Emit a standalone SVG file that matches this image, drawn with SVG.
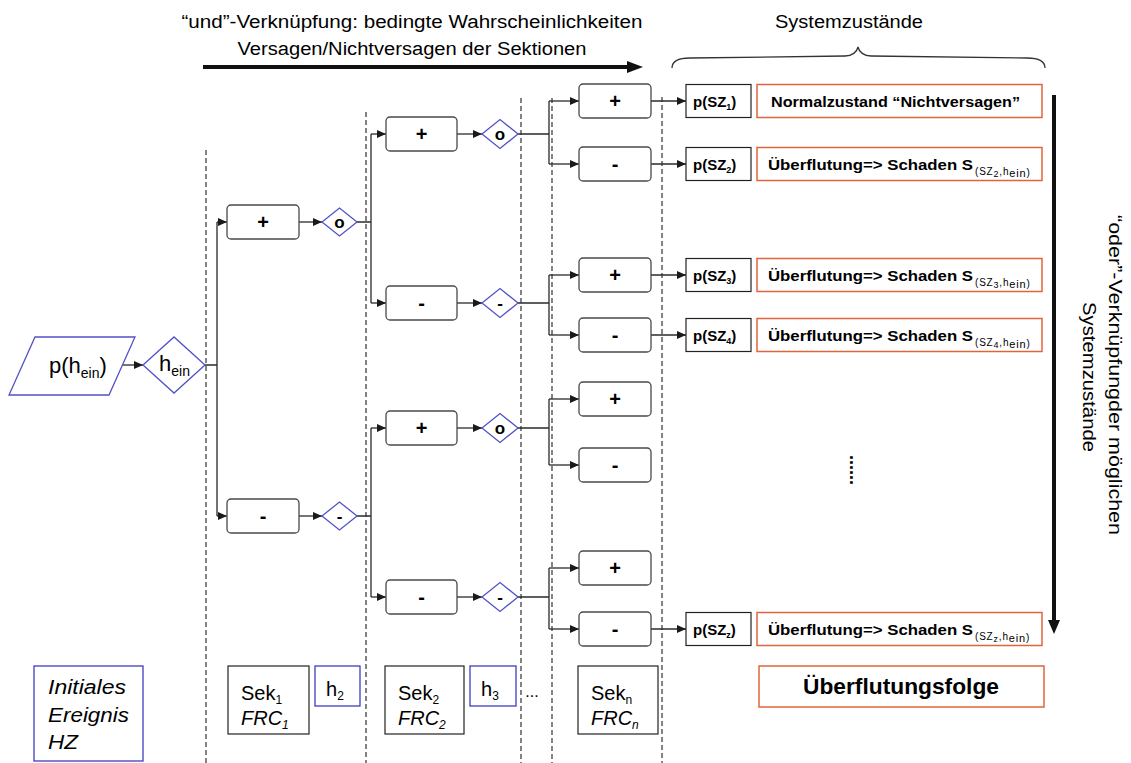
<svg xmlns="http://www.w3.org/2000/svg" width="1131" height="763" viewBox="0 0 1131 763">
<defs>
  <marker id="tip" markerUnits="userSpaceOnUse" markerWidth="9" markerHeight="8" refX="9" refY="4" orient="auto">
    <path d="M0,0 L9,4 L0,8 z" fill="#1a1a1a"/>
  </marker>
  <style>
    text{font-family:"Liberation Sans",Arial,Helvetica,sans-serif;fill:#000}
    .box{fill:#fff;stroke:#4a4a4a;stroke-width:1.3}
    .dec{fill:#fff;stroke:#5252c8;stroke-width:1.3}
    .blue{fill:#fff;stroke:#3c3cc0;stroke-width:1.3}
    .cons{fill:#fff;stroke:#e3643c;stroke-width:1.5}
    .sq{fill:#fff;stroke:#222;stroke-width:1.2}
    .sign{font-size:20px;font-weight:bold;text-anchor:middle}
    .dsign{font-size:17px;font-weight:bold;text-anchor:middle}
    .link{fill:none;stroke:#2a2a2a;stroke-width:1.3}
    .arr{fill:none;stroke:#2a2a2a;stroke-width:1.3;marker-end:url(#tip)}
    .sep{stroke:#1e1e1e;stroke-width:1.1;stroke-dasharray:5 3}
    .ps{font-size:15px;font-weight:bold}
    .res{font-size:15px;font-weight:bold}
    .sub{font-size:10px}
    .lbl{font-size:20px}
  </style>
</defs>
<rect width="1131" height="763" fill="#fff"/>

<!-- section separators -->
<g id="separators">
  <line class="sep" x1="206" y1="150" x2="206" y2="763"/>
  <line class="sep" x1="366" y1="112" x2="366" y2="763"/>
  <line class="sep" x1="521" y1="98" x2="521" y2="763"/>
  <line class="sep" x1="552" y1="98" x2="552" y2="763"/>
  <line class="sep" x1="662" y1="97" x2="662" y2="763"/>
</g>

<!-- headings -->
<g id="header">
  <text x="412" y="28" font-size="18" text-anchor="middle" textLength="461" lengthAdjust="spacingAndGlyphs">“und”-Verknüpfung: bedingte Wahrscheinlichkeiten</text>
  <text x="412" y="55" font-size="18" text-anchor="middle" textLength="349" lengthAdjust="spacingAndGlyphs">Versagen/Nichtversagen der Sektionen</text>
  <line x1="203" y1="67" x2="630" y2="67" stroke="#111" stroke-width="4"/>
  <polygon points="627,61 643,67 627,73" fill="#111"/>
</g>
<g id="systemzustaende-title">
  <text x="849" y="28" font-size="18" text-anchor="middle" textLength="148" lengthAdjust="spacingAndGlyphs">Systemzustände</text>
  <path d="M672,68 C672,61 679,58 690,58 L845,56 C852,56 857,52 858,47 C859,52 864,56 871,56 L1027,58 C1038,58 1045,61 1045,68" fill="none" stroke="#333" stroke-width="1.3"/>
</g>
<g id="oder-arrow">
  <line x1="1054" y1="95" x2="1054" y2="622" stroke="#111" stroke-width="4"/>
  <polygon points="1048,620 1054,634 1060,620" fill="#111"/>
  <text transform="translate(1109,375) rotate(90)" font-size="19" text-anchor="middle" textLength="320" lengthAdjust="spacingAndGlyphs">“oder”-Verknüpfungder möglichen</text>
  <text transform="translate(1083,377) rotate(90)" font-size="19" text-anchor="middle" textLength="150" lengthAdjust="spacingAndGlyphs">Systemzustände</text>
</g>

<!-- connectors -->
<g id="connectors">
  <line class="arr" x1="122" y1="365" x2="143" y2="365"/>
  <path class="link" d="M205,365 H217 M217,222 V516"/>
  <path class="arr" d="M217,222 H227"/>
  <path class="arr" d="M217,516 H227"/>
  <path class="arr" d="M299,222 H322"/>
  <path class="arr" d="M299,516 H322"/>

  <path class="link" d="M357,222 H371 M371,134 V303 M357,516 H371 M371,428 V597"/>
  <path class="arr" d="M371,134 H386"/>
  <path class="arr" d="M371,303 H386"/>
  <path class="arr" d="M371,428 H386"/>
  <path class="arr" d="M371,597 H386"/>

  <path class="arr" d="M457,134 H482"/>
  <path class="arr" d="M457,303 H482"/>
  <path class="arr" d="M457,428 H482"/>
  <path class="arr" d="M457,597 H482"/>

  <path class="link" d="M518,134 H549 M549,101 V164 M518,303 H549 M549,275 V335 M518,428 H549 M549,399 V465 M518,597 H549 M549,568 V629"/>
  <path class="arr" d="M549,101 H579"/>
  <path class="arr" d="M549,164 H579"/>
  <path class="arr" d="M549,275 H579"/>
  <path class="arr" d="M549,335 H579"/>
  <path class="arr" d="M549,399 H579"/>
  <path class="arr" d="M549,465 H579"/>
  <path class="arr" d="M549,568 H579"/>
  <path class="arr" d="M549,629 H579"/>

  <path class="arr" d="M651,101 H686"/>
  <path class="arr" d="M651,164 H686"/>
  <path class="arr" d="M651,275 H686"/>
  <path class="arr" d="M651,335 H686"/>
  <path class="arr" d="M651,629 H686"/>
</g>

<!-- initial event -->
<g id="p-hein">
  <polygon class="dec" points="35,337 135,337 109,395 9,395"/>
  <text x="49" y="373" font-size="22">p(h<tspan font-size="14" dy="5">ein</tspan><tspan dy="-5">)</tspan></text>
</g>
<g id="hein">
  <polygon class="dec" points="143,365 174,337 205,365 174,393"/>
  <text x="159" y="371" font-size="22">h<tspan font-size="14" dy="5">ein</tspan></text>
</g>

<!-- section 1 -->
<g id="s1-plus"><rect class="box" x="227" y="205" width="72" height="34" rx="4"/><text class="sign" x="263" y="229">+</text></g>
<g id="s1-minus"><rect class="box" x="227" y="499" width="72" height="34" rx="4"/><text class="sign" x="263" y="523">-</text></g>
<g id="d1-o"><polygon class="dec" points="322,222 339.5,208 357,222 339.5,236"/><text class="dsign" x="339.5" y="228">o</text></g>
<g id="d1-m"><polygon class="dec" points="322,516 339.5,502 357,516 339.5,530"/><text class="dsign" x="339.5" y="522">-</text></g>

<!-- section 2 -->
<g id="s2-plus-a"><rect class="box" x="386" y="117" width="71" height="34" rx="4"/><text class="sign" x="421.5" y="141">+</text></g>
<g id="s2-minus-a"><rect class="box" x="386" y="286" width="71" height="34" rx="4"/><text class="sign" x="421.5" y="310">-</text></g>
<g id="s2-plus-b"><rect class="box" x="386" y="411" width="71" height="34" rx="4"/><text class="sign" x="421.5" y="435">+</text></g>
<g id="s2-minus-b"><rect class="box" x="386" y="580" width="71" height="34" rx="4"/><text class="sign" x="421.5" y="604">-</text></g>
<g id="d2-o-a"><polygon class="dec" points="482,134 500,119.5 518,134 500,148.5"/><text class="dsign" x="500" y="140">o</text></g>
<g id="d2-m-a"><polygon class="dec" points="482,303 500,288.5 518,303 500,317.5"/><text class="dsign" x="500" y="309">-</text></g>
<g id="d2-o-b"><polygon class="dec" points="482,428 500,413.5 518,428 500,442.5"/><text class="dsign" x="500" y="434">o</text></g>
<g id="d2-m-b"><polygon class="dec" points="482,597 500,582.5 518,597 500,611.5"/><text class="dsign" x="500" y="603">-</text></g>

<!-- section n -->
<g id="sn-1"><rect class="box" x="579" y="84" width="72" height="34" rx="4"/><text class="sign" x="615" y="108">+</text></g>
<g id="sn-2"><rect class="box" x="579" y="147" width="72" height="34" rx="4"/><text class="sign" x="615" y="171">-</text></g>
<g id="sn-3"><rect class="box" x="579" y="258" width="72" height="34" rx="4"/><text class="sign" x="615" y="282">+</text></g>
<g id="sn-4"><rect class="box" x="579" y="318" width="72" height="34" rx="4"/><text class="sign" x="615" y="342">-</text></g>
<g id="sn-5"><rect class="box" x="579" y="382" width="72" height="34" rx="4"/><text class="sign" x="615" y="406">+</text></g>
<g id="sn-6"><rect class="box" x="579" y="448" width="72" height="34" rx="4"/><text class="sign" x="615" y="472">-</text></g>
<g id="sn-7"><rect class="box" x="579" y="551" width="72" height="34" rx="4"/><text class="sign" x="615" y="575">+</text></g>
<g id="sn-8"><rect class="box" x="579" y="612" width="72" height="34" rx="4"/><text class="sign" x="615" y="636">-</text></g>

<!-- system states -->
<g id="sz1">
  <rect class="sq" x="686" y="84.5" width="65" height="33"/>
  <text class="ps" x="693" y="107">p(SZ<tspan font-size="9" dy="3">1</tspan><tspan dy="-3">)</tspan></text>
  <rect class="cons" x="757" y="84.5" width="285" height="33"/>
  <text class="res" x="771" y="106.5" textLength="249" lengthAdjust="spacingAndGlyphs">Normalzustand “Nichtversagen”</text>
</g>
<g id="sz2">
  <rect class="sq" x="686" y="147.5" width="65" height="33"/>
  <text class="ps" x="693" y="170">p(SZ<tspan font-size="9" dy="3">2</tspan><tspan dy="-3">)</tspan></text>
  <rect class="cons" x="757" y="147.5" width="285" height="33"/>
  <text class="res" x="768" y="169.5" textLength="205" lengthAdjust="spacingAndGlyphs">Überflutung=&gt; Schaden S</text>
  <text class="sub" x="975" y="175" letter-spacing="0.8">(SZ<tspan font-size="9" dy="2">2</tspan><tspan dy="-2">,h</tspan><tspan font-size="11" dy="2">ein</tspan><tspan dy="-1">)</tspan></text>
</g>
<g id="sz3">
  <rect class="sq" x="686" y="258.5" width="65" height="33"/>
  <text class="ps" x="693" y="281">p(SZ<tspan font-size="9" dy="3">3</tspan><tspan dy="-3">)</tspan></text>
  <rect class="cons" x="757" y="258.5" width="285" height="33"/>
  <text class="res" x="768" y="280.5" textLength="205" lengthAdjust="spacingAndGlyphs">Überflutung=&gt; Schaden S</text>
  <text class="sub" x="975" y="286" letter-spacing="0.8">(SZ<tspan font-size="9" dy="2">3</tspan><tspan dy="-2">,h</tspan><tspan font-size="11" dy="2">ein</tspan><tspan dy="-1">)</tspan></text>
</g>
<g id="sz4">
  <rect class="sq" x="686" y="318.5" width="65" height="33"/>
  <text class="ps" x="693" y="341">p(SZ<tspan font-size="9" dy="3">4</tspan><tspan dy="-3">)</tspan></text>
  <rect class="cons" x="757" y="318.5" width="285" height="33"/>
  <text class="res" x="768" y="340.5" textLength="205" lengthAdjust="spacingAndGlyphs">Überflutung=&gt; Schaden S</text>
  <text class="sub" x="975" y="346" letter-spacing="0.8">(SZ<tspan font-size="9" dy="2">4</tspan><tspan dy="-2">,h</tspan><tspan font-size="11" dy="2">ein</tspan><tspan dy="-1">)</tspan></text>
</g>
<g id="more-states">
  <text transform="translate(850,470) rotate(90)" font-size="18" font-weight="bold" text-anchor="middle">......</text>
</g>
<g id="szz">
  <rect class="sq" x="686" y="612.5" width="65" height="33"/>
  <text class="ps" x="693" y="635">p(SZ<tspan font-size="9" dy="3">z</tspan><tspan dy="-3">)</tspan></text>
  <rect class="cons" x="757" y="612.5" width="285" height="33"/>
  <text class="res" x="768" y="634.5" textLength="205" lengthAdjust="spacingAndGlyphs">Überflutung=&gt; Schaden S</text>
  <text class="sub" x="975" y="640" letter-spacing="0.8">(SZ<tspan font-size="9" dy="2">z</tspan><tspan dy="-2">,h</tspan><tspan font-size="11" dy="2">ein</tspan><tspan dy="-1">)</tspan></text>
</g>

<!-- legend row -->
<g id="legend-initial">
  <rect class="blue" x="34" y="666" width="109" height="95"/>
  <text x="48" y="694" font-size="20" font-style="italic" textLength="78" lengthAdjust="spacingAndGlyphs">Initiales</text>
  <text x="48" y="722" font-size="20" font-style="italic" textLength="81" lengthAdjust="spacingAndGlyphs">Ereignis</text>
  <text x="48" y="749" font-size="20" font-style="italic" textLength="30" lengthAdjust="spacingAndGlyphs">HZ</text>
</g>
<g id="legend-sek1">
  <rect class="sq" x="228" y="666" width="81" height="68"/>
  <text class="lbl" x="241" y="700">Sek<tspan font-size="12" dy="4">1</tspan></text>
  <text class="lbl" x="241" y="725" font-style="italic">FRC<tspan font-size="12" dy="4">1</tspan></text>
</g>
<g id="legend-h2">
  <rect class="blue" x="315" y="666" width="45" height="40"/>
  <text class="lbl" x="326" y="696">h<tspan font-size="12" dy="4">2</tspan></text>
</g>
<g id="legend-sek2">
  <rect class="sq" x="385" y="666" width="79" height="68"/>
  <text class="lbl" x="398" y="700">Sek<tspan font-size="12" dy="4">2</tspan></text>
  <text class="lbl" x="398" y="725" font-style="italic">FRC<tspan font-size="12" dy="4">2</tspan></text>
</g>
<g id="legend-h3">
  <rect class="blue" x="470" y="666" width="46" height="40"/>
  <text class="lbl" x="481" y="696">h<tspan font-size="12" dy="4">3</tspan></text>
</g>
<g id="legend-dots">
  <text x="532" y="697" font-size="16" text-anchor="middle">...</text>
</g>
<g id="legend-sekn">
  <rect class="sq" x="578" y="666" width="80" height="68"/>
  <text class="lbl" x="591" y="700">Sek<tspan font-size="12" dy="4">n</tspan></text>
  <text class="lbl" x="591" y="725" font-style="italic">FRC<tspan font-size="12" dy="4">n</tspan></text>
</g>
<g id="legend-folge">
  <rect class="cons" x="759" y="666" width="285" height="41"/>
  <text x="901" y="694" font-size="22" font-weight="bold" text-anchor="middle" textLength="196" lengthAdjust="spacingAndGlyphs">Überflutungsfolge</text>
</g>
</svg>
